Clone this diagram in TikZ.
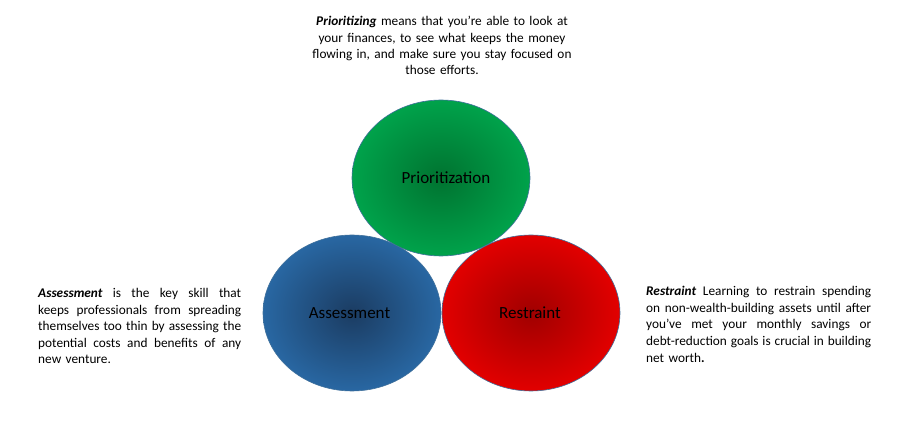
\documentclass[tikz,border=0pt]{standalone}
\usepackage{fontspec}
\setmainfont{Carlito}
\usetikzlibrary{shapes.geometric}
\definecolor{ginner}{RGB}{0,115,48}
\definecolor{gouter}{RGB}{0,168,78}
\definecolor{binner}{RGB}{27,60,98}
\definecolor{bouter}{RGB}{42,108,170}
\definecolor{rinner}{RGB}{160,0,0}
\definecolor{router}{RGB}{234,0,0}
\definecolor{rimcol}{RGB}{65,113,156}
\pgfdeclareradialshading{greenshade}{\pgfpoint{0bp}{0bp}}{color(0bp)=(ginner); color(28bp)=(gouter); color(50bp)=(gouter)}
\pgfdeclareradialshading{blueshade}{\pgfpoint{0bp}{0bp}}{color(0bp)=(binner); color(28bp)=(bouter); color(50bp)=(bouter)}
\pgfdeclareradialshading{redshade}{\pgfpoint{0bp}{0bp}}{color(0bp)=(rinner); color(28bp)=(router); color(50bp)=(router)}
\newcommand{\jline}[2]{\leavevmode\hbox to #1{\spaceskip=0pt\xspaceskip=0pt #2}}
\tikzset{
  blob/.style={ellipse, minimum width=178pt, minimum height=156pt, inner sep=0pt,
    draw=rimcol, line width=0.6pt, font=\fontsize{17}{20}\selectfont, text=black},
  bodytext/.style={inner sep=0pt, font=\fontsize{13.3}{16.4}\selectfont, text=black}
}
\begin{document}
\begin{tikzpicture}[x=1pt,y=-1pt]
\useasboundingbox (0,0) rectangle (898,430);
\node[blob, shade, shading=blueshade] (asse) at (352,313) {Assessment\hspace*{5pt}};
\node[blob, shade, shading=redshade] (rest) at (531,313) {Restraint\hspace*{2pt}};
\node[blob, shade, shading=greenshade] (prio) at (441,178) {\hspace*{10pt}Prioritization};
\node[bodytext, text width=280pt, align=center, anchor=base] (ptext) at (442,25.7)
  {\textbf{\textit{Prioritizing}} means that you're able to look at\\
   your finances, to see what keeps the money\\
   flowing in, and make sure you stay focused on\\
   those efforts.};
\node[bodytext, text width=203pt, align=left, anchor=base west] (atext) at (38,298)
  {\jline{203pt}{\textbf{\textit{Assessment}} is the key skill that}\\
   \jline{203pt}{keeps professionals from spreading}\\
   \jline{203pt}{themselves too thin by assessing the}\\
   \jline{203pt}{potential costs and benefits of any}\\
   new venture.};
\node[bodytext, text width=225pt, align=left, anchor=base west] (rtext) at (646,296)
  {\jline{225pt}{\textbf{\textit{Restraint}} Learning to restrain spending}\\
   \jline{225pt}{on non-wealth-building assets until after}\\
   \jline{225pt}{you've met your monthly savings or}\\
   \jline{225pt}{debt-reduction goals is crucial in building}\\[1pt]
   net worth\textbf{.}};
\end{tikzpicture}
\end{document}
